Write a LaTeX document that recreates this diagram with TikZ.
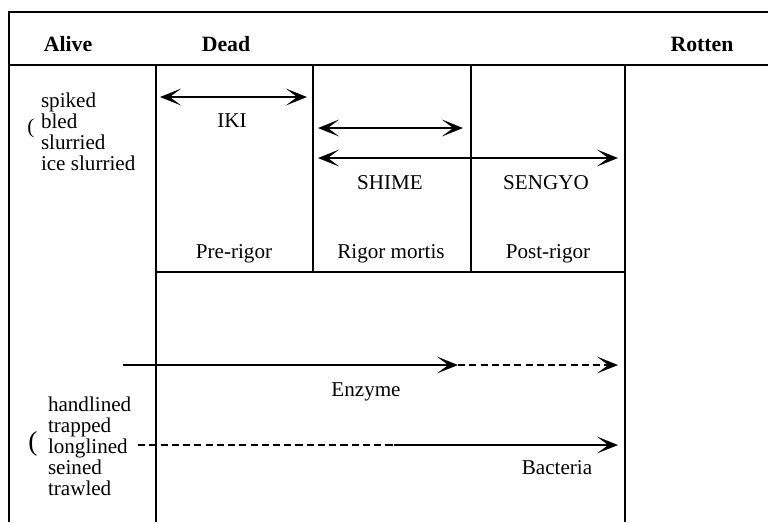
\documentclass[tikz,border=0pt]{standalone}
\usepackage{fontspec}
\setmainfont{Liberation Serif}
\usetikzlibrary{arrows.meta}
\begin{document}
\begin{tikzpicture}[x=0.025cm,y=-0.025cm,line width=1.45pt,
  txt/.style={font=\fontsize{15}{14.9}\selectfont},
  head/.style={font=\fontsize{15.5}{15}\selectfont\bfseries},
  oneway/.style={-{Stealth[length=15pt,width=12pt,inset=8pt]}},
  twoway/.style={{Stealth[length=15pt,width=12pt,inset=8pt]}-{Stealth[length=15pt,width=12pt,inset=8pt]}},
  broken/.style={dash pattern=on 5pt off 3pt}]
\useasboundingbox (0,0) rectangle (768,522);
% frame and columns
\draw (768,12) -- (9,12) -- (9,522);
\draw (9,65) -- (768,65);
\draw (156,65) -- (156,522);
\draw (313,65) -- (313,272);
\draw (471,65) -- (471,272);
\draw (625,65) -- (625,522);
\draw (156,272) -- (625,272);
% headings
\node[head] (alive) at (68,44) {Alive};
\node[head] (dead) at (226,44) {Dead};
\node[head] (rotten) at (702,44) {Rotten};
% killing methods
\node[txt,anchor=west,align=left,inner sep=0pt] (killing) at (40,132) {spiked\\bled\\slurried\\ice slurried};
\node[txt] (killbrace) at (31,128) {(};
% catching methods
\node[txt,anchor=west,align=left,inner sep=0pt] (catching) at (47,446) {handlined\\trapped\\longlined\\seined\\trawled};
\node[txt,scale=1.3] (catchbrace) at (33,444) {(};
% stages
\node[txt] (iki) at (232,121) {IKI};
\node[txt] (shime) at (390,183) {SHIME};
\node[txt] (sengyo) at (546,183) {SENGYO};
\node[txt] (prerigor) at (234,254) {Pre-rigor};
\node[txt] (rigormortis) at (391,254) {Rigor mortis};
\node[txt] (postrigor) at (548,254) {Post-rigor};
\node[txt] (enzyme) at (366,392) {Enzyme};
\node[txt] (bacteria) at (557,468) {Bacteria};
% arrow ends
\coordinate (ikiA) at (160,97);
\coordinate (ikiB) at (307,97);
\coordinate (shimeA) at (318,128);
\coordinate (shimeB) at (463,128);
\coordinate (sengyoA) at (318,158);
\coordinate (sengyoB) at (618,158);
\coordinate (enzA) at (123,365);
\coordinate (enzB) at (458,365);
\coordinate (enzC) at (618,365);
\coordinate (bacA) at (138,445);
\coordinate (bacB) at (394,445);
\coordinate (bacC) at (618,445);
% arrows
\draw[twoway] (ikiA) -- (ikiB);
\draw[twoway] (shimeA) -- (shimeB);
\draw[twoway] (sengyoA) -- (sengyoB);
\draw[oneway] (enzA) -- (enzB);
\draw[oneway,broken] (enzB) -- (enzC);
\draw[broken] (bacA) -- (bacB);
\draw[oneway] (bacB) -- (bacC);
\end{tikzpicture}
\end{document}
